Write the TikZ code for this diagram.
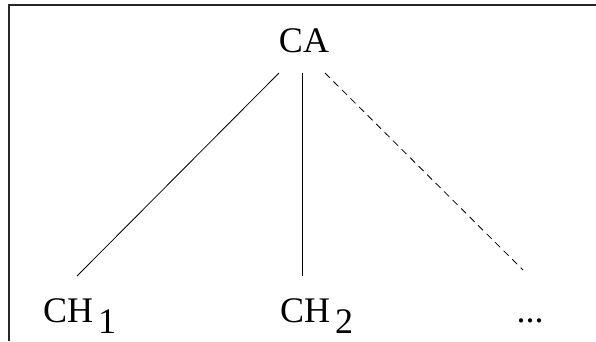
\documentclass[tikz,border=0pt]{standalone}
\usepackage{fontspec}
\setmainfont{Liberation Serif}
\usepackage{tikz}
\usetikzlibrary{positioning}

\begin{document}
\begin{tikzpicture}[x=1pt,y=-1pt,
  lbl/.style={inner sep=0pt,font=\fontsize{36}{40}\selectfont},
  edge/.style={line width=0.8pt,black},
  dedge/.style={edge,dash pattern=on 7pt off 5pt},
  frame/.style={line width=2pt,black!85}]
\useasboundingbox (0,0) rectangle (596,341);
% partial frame
\draw[frame] (8.5,341) -- (8.5,5) -- (596,5);
\node[lbl,anchor=base] (ca) at (304,52) {CA};
\node[lbl,anchor=base west] (ch1) at (43,322) {CH\kern5pt\raisebox{-11pt}{1}};
\node[lbl,anchor=base west] (ch2) at (280,322) {CH\kern5pt\raisebox{-11pt}{2}};
\node[lbl,anchor=base] (dots) at (530,322) {...};
\draw[edge] ([xshift=-25pt,yshift=-21pt]ca.base) -- ([xshift=34pt,yshift=46pt]ch1.base west);
\draw[edge] ([xshift=-2pt,yshift=-21pt]ca.base) -- ([xshift=22pt,yshift=46pt]ch2.base west);
\draw[dedge] ([xshift=21pt,yshift=-21pt]ca.base) -- ([xshift=-7pt,yshift=52pt]dots.base);
\end{tikzpicture}
\end{document}
